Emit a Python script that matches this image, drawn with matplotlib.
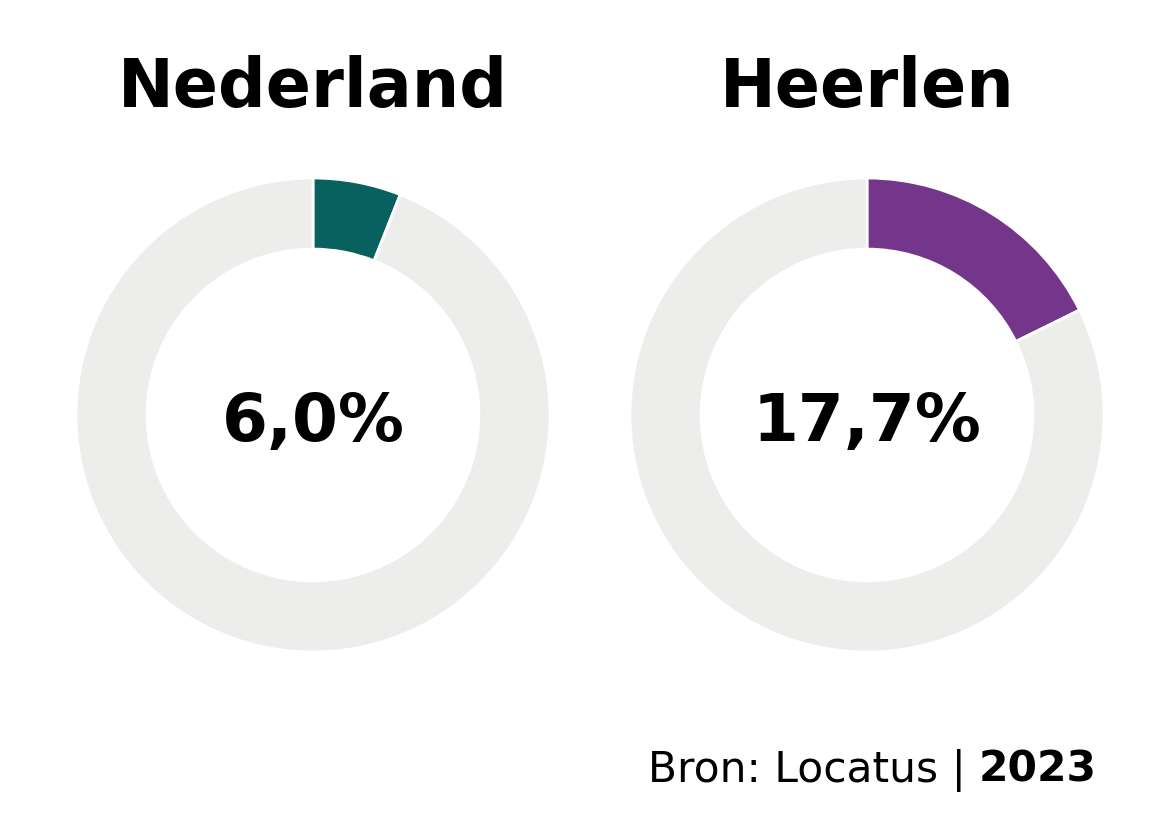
import matplotlib
matplotlib.use("Agg")
import matplotlib.pyplot as plt

titles = ["Nederland", "Heerlen"]
values = [6.0, 17.7]
labels = ["6,0%", "17,7%"]
colors = ["#08605F", "#73368A"]
rest_color = "#EDEDEB"
source_regular = "Bron: Locatus | "
source_bold = "2023"

W, H = 1169, 826
fig = plt.figure(figsize=(W / 100, H / 100), dpi=100)
fig.patch.set_facecolor("white")

centers_x = [313, 867]
cy = 415
R = 237
for i, (t, v, lab, c) in enumerate(zip(titles, values, labels, colors)):
    cx = centers_x[i]
    ax = fig.add_axes([(cx - R) / W, (H - cy - R) / H, 2 * R / W, 2 * R / H])
    ax.pie([v, 100 - v], colors=[c, rest_color], startangle=90, counterclock=False,
           radius=1, wedgeprops=dict(width=0.30, edgecolor="white", linewidth=2.0))
    ax.set_xlim(-1, 1)
    ax.set_ylim(-1, 1)
    ax.set_aspect("equal")
    ax.axis("off")
    fig.text(cx / W, (H - 441) / H, lab, ha="center", va="baseline", fontsize=47.5,
             fontweight="bold", color="black")
    fig.text(cx / W, (H - 107) / H, t, ha="center", va="baseline", fontsize=48,
             fontweight="bold", color="black")

fig.canvas.draw()
r = fig.canvas.get_renderer()
tb = fig.text(1097 / W, (H - 782) / H, source_bold, ha="right", va="baseline",
              fontsize=30.5, fontweight="bold", color="black")
bb = tb.get_window_extent(renderer=r)
fig.text(bb.x0 / W, (H - 782) / H, source_regular, ha="right", va="baseline",
         fontsize=30.5, color="black")

fig.savefig("out.png", dpi=100, facecolor="white")
